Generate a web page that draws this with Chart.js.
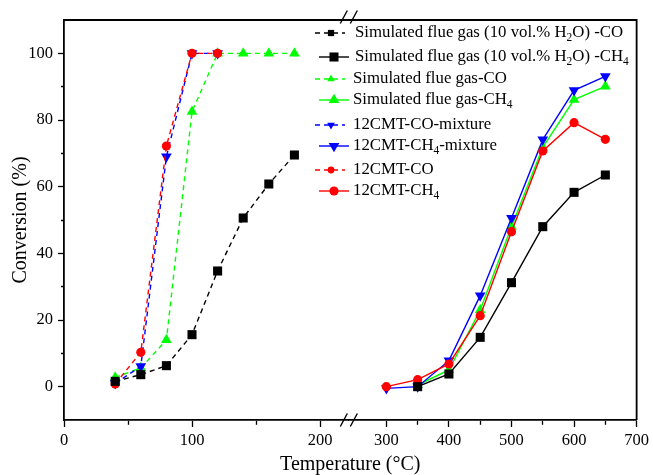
<!DOCTYPE html>
<html>
<head>
<meta charset="utf-8">
<script src="https://cdn.jsdelivr.net/npm/chart.js@4.4.0/dist/chart.umd.min.js"></script>
<style>
    html, body { margin: 0; padding: 0; background: #fff; }
</style>
</head>
<body>
<canvas id="canvas-conversion" width="653" height="475"></canvas>
<script>
'use strict';

/* global Chart */

// Simulated flue gas (10 vol.% H2O)
const tempCO_H2O = [40, 60, 80, 100, 120, 140, 160, 180];
const convCO_H2O = [1.6, 3.6, 6.3, 15.6, 34.7, 50.6, 60.8, 69.5];
const tempCH4_H2O = [350, 400, 450, 500, 550, 600, 650];
const convCH4_H2O = [0, 3.8, 14.8, 31.2, 48.0, 58.3, 63.5];

// Simulated flue gas
const tempCO_gaz = [40, 60, 80, 100, 120, 140, 160, 180];
const convCO_gaz = [2.8, 5.6, 14.0, 82.5, 100, 100, 100, 100];
const tempCH4_gaz = [350, 400, 450, 500, 550, 600, 650];
const convCH4_gaz = [0.5, 5.0, 23.0, 48.0, 71.8, 86.1, 90.1];

// 12CMT mixture
const tempCO_mix = [40, 60, 80, 100, 120];
const convCO_mix = [1.0, 6.1, 69.0, 100, 100];
const tempCH4_mix = [300, 350, 400, 450, 500, 550, 600, 650];
const convCH4_mix = [-0.5, 0, 7.8, 27.3, 50.6, 74.1, 88.9, 93.1];

// 12CMT
const tempCO_12 = [40, 60, 80, 100, 120];
const convCO_12 = [0.8, 10.3, 72.2, 100, 100];
const tempCH4_12 = [300, 350, 400, 450, 500, 550, 600, 650];
const convCH4_12 = [0, 2.1, 6.8, 21.3, 46.5, 70.7, 79.2, 74.2];

// "_2" = indice
const libelles = [
    'Simulated flue gas (10 vol.% H_2O) -CO',
    'Simulated flue gas (10 vol.% H_2O) -CH_4',
    'Simulated flue gas-CO',
    'Simulated flue gas-CH_4',
    '12CMT-CO-mixture',
    '12CMT-CH_4-mixture',
    '12CMT-CO',
    '12CMT-CH_4'
];

const xTicksGauche = [0, 50, 100, 150, 200];
const xTicksDroite = [300, 350, 400, 450, 500, 550, 600, 650, 700];
const yTicks = [0, 10, 20, 30, 40, 50, 60, 70, 80, 90, 100];

const police = '"Liberation Serif", "Times New Roman", serif';

function points(xs, ys) {
    return xs.map((x, i) => ({ x: x, y: ys[i] }));
}

function serie(idx, xs, ys, axe, couleur, style, pointille, ordre) {
    return {
        label: libelles[idx],
        data: points(xs, ys),
        xAxisID: axe,
        yAxisID: 'y',
        borderColor: couleur,
        backgroundColor: couleur,
        borderWidth: 1.4,
        borderDash: pointille ? [5, 4] : [],
        pointStyle: style === 'bas' ? 'triangle' : style,
        pointRotation: style === 'bas' ? 180 : 0,
        pointRadius: style === 'circle' ? 4.6 : (style === 'rect' ? 6.4 : 6.2),
        pointBorderWidth: 0,
        tension: 0,
        order: ordre,
        clip: false
    };
}

const datasets = [
    serie(0, tempCO_H2O, convCO_H2O, 'x', '#000000', 'rect', true, 0),
    serie(1, tempCH4_H2O, convCH4_H2O, 'x2', '#000000', 'rect', false, 0),
    serie(2, tempCO_gaz, convCO_gaz, 'x', '#00ff00', 'triangle', true, 3),
    serie(3, tempCH4_gaz, convCH4_gaz, 'x2', '#00ff00', 'triangle', false, 3),
    serie(4, tempCO_mix, convCO_mix, 'x', '#0000ff', 'bas', true, 2),
    serie(5, tempCH4_mix, convCH4_mix, 'x2', '#0000ff', 'bas', false, 2),
    serie(6, tempCO_12, convCO_12, 'x', '#ff0000', 'circle', true, 1),
    serie(7, tempCH4_12, convCH4_12, 'x2', '#ff0000', 'circle', false, 1)
];

// petits traits pour les graduations secondaires
function tiretMineur(pas, longueur) {
    return function (c) {
        if (!c.tick || c.tick.value % pas === 0) return [];
        return longueur;
    };
}

function axeX(min, max, liste, poids) {
    return {
        type: 'linear',
        position: 'bottom',
        stack: 'temperature',
        stackWeight: poids,
        min: min,
        max: max,
        afterBuildTicks: (s) => { s.ticks = liste.map(v => ({ value: v })); },
        afterFit: (s) => { s.height = 55; },
        grid: {
            drawOnChartArea: false,
            drawTicks: true,
            tickLength: 7,
            tickWidth: 1.3,
            tickColor: '#000',
            tickBorderDash: tiretMineur(100, [4, 50])
        },
        border: { display: true, color: '#000', width: 1.8 },
        ticks: {
            autoSkip: false,
            maxRotation: 0,
            padding: 4,
            color: '#000',
            font: { family: police, size: 16.5 },
            callback: (v) => (v % 100 === 0 ? v : '')
        }
    };
}

function texteIndice(ctx, texte, x, y, taille) {
    const morceaux = texte.split(/_(\d)/);
    morceaux.forEach((m, i) => {
        if (i % 2 === 1) {
            ctx.font = (taille * 0.68) + 'px ' + police;
            ctx.fillText(m, x, y + taille * 0.3);
        } else {
            ctx.font = taille + 'px ' + police;
            ctx.fillText(m, x, y);
        }
        x += ctx.measureText(m).width;
    });
}

function marqueur(ctx, style, x, y, r) {
    ctx.beginPath();
    if (style === 'rect') {
        const s = r * Math.SQRT1_2;
        ctx.rect(x - s, y - s, 2 * s, 2 * s);
    } else if (style === 'circle') {
        ctx.arc(x, y, r, 0, Math.PI * 2);
    } else {
        const sens = style === 'bas' ? -1 : 1;
        for (let k = 0; k < 3; k++) {
            const a = -Math.PI / 2 + k * 2 * Math.PI / 3;
            const px = x + r * Math.cos(a);
            const py = y + sens * r * Math.sin(a);
            if (k === 0) ctx.moveTo(px, py); else ctx.lineTo(px, py);
        }
        ctx.closePath();
    }
    ctx.fill();
}

const styles = ['rect', 'rect', 'triangle', 'triangle', 'bas', 'bas', 'circle', 'circle'];

const cadreEtLegende = {
    id: 'cadreEtLegende',
    afterDraw(chart) {
        const ctx = chart.ctx;
        const a = chart.chartArea;
        const coupure = chart.scales.x.right;
        ctx.save();
        ctx.strokeStyle = '#000';
        ctx.lineWidth = 1.8;
        ctx.beginPath();
        ctx.moveTo(a.left, a.top);
        ctx.lineTo(a.right, a.top);
        ctx.lineTo(a.right, a.bottom);
        ctx.stroke();

        // marques de coupure //
        ctx.lineWidth = 1.4;
        [a.top - 3, a.bottom].forEach((yc) => {
            [-5, 5].forEach((dx) => {
                ctx.beginPath();
                ctx.moveTo(coupure + dx - 3.5, yc + 6.5);
                ctx.lineTo(coupure + dx + 3.5, yc - 6.5);
                ctx.stroke();
            });
        });

        // légende
        const lignesY = [33, 57, 79, 100, 125, 146, 170, 191];
        ctx.textBaseline = 'middle';
        ctx.fillStyle = '#000';
        chart.data.datasets.forEach((ds, i) => {
            const y = lignesY[i];
            const pointille = ds.borderDash.length > 0;
            ctx.strokeStyle = ds.borderColor;
            ctx.fillStyle = ds.borderColor;
            ctx.lineWidth = 1.4;
            ctx.setLineDash(pointille ? [5, 4] : []);
            ctx.beginPath();
            ctx.moveTo(pointille ? 315 : 319, y);
            ctx.lineTo(pointille ? 345 : 349, y);
            ctx.stroke();
            ctx.setLineDash([]);
            const r = pointille ? (styles[i] === 'circle' ? 3.4 : 4.4) : ds.pointRadius;
            marqueur(ctx, styles[i], pointille ? 331 : 334, y, r);
            ctx.fillStyle = '#000';
            texteIndice(ctx, libelles[i], i < 2 ? 355 : 353, y, 16.8);
        });

        // titre de l'axe X
        ctx.font = '20px ' + police;
        ctx.textAlign = 'center';
        ctx.fillText('Temperature (\u00B0C)', (a.left + a.right) / 2, 465);
        ctx.restore();
    }
};

document.addEventListener('DOMContentLoaded', function () {
    const ctx = document.getElementById('canvas-conversion').getContext('2d');

    // eslint-disable-next-line no-unused-vars
    let graphe = new Chart(ctx, {
        type: 'line',
        data: { datasets: datasets },
        options: {
            responsive: false,
            animation: false,
            devicePixelRatio: 1,
            layout: { padding: { top: 20, right: 15, left: 0, bottom: 0 } },
            plugins: {
                legend: { display: false },
                tooltip: { enabled: false }
            },
            scales: {
                x: axeX(0, 222.5, xTicksGauche, 285),
                x2: axeX(240, 700, xTicksDroite, 288),
                y: {
                    type: 'linear',
                    position: 'left',
                    min: -10,
                    max: 110,
                    afterBuildTicks: (s) => { s.ticks = yTicks.map(v => ({ value: v })); },
                    afterFit: (s) => { s.width = 64; },
                    grid: {
                        drawOnChartArea: false,
                        tickLength: 6,
                        tickWidth: 1.3,
                        tickColor: '#000',
                        tickBorderDash: tiretMineur(20, [0, 3, 4, 50])
                    },
                    border: { display: true, color: '#000', width: 1.8 },
                    title: {
                        display: true,
                        text: 'Conversion (%)',
                        color: '#000',
                        font: { family: police, size: 20 },
                        padding: { top: 9, bottom: 0 }
                    },
                    ticks: {
                        autoSkip: false,
                        padding: 5,
                        color: '#000',
                        font: { family: police, size: 16.5 },
                        callback: (v) => (v % 20 === 0 ? v : '')
                    }
                }
            }
        },
        plugins: [cadreEtLegende]
    });
});
</script>
</body>
</html>
